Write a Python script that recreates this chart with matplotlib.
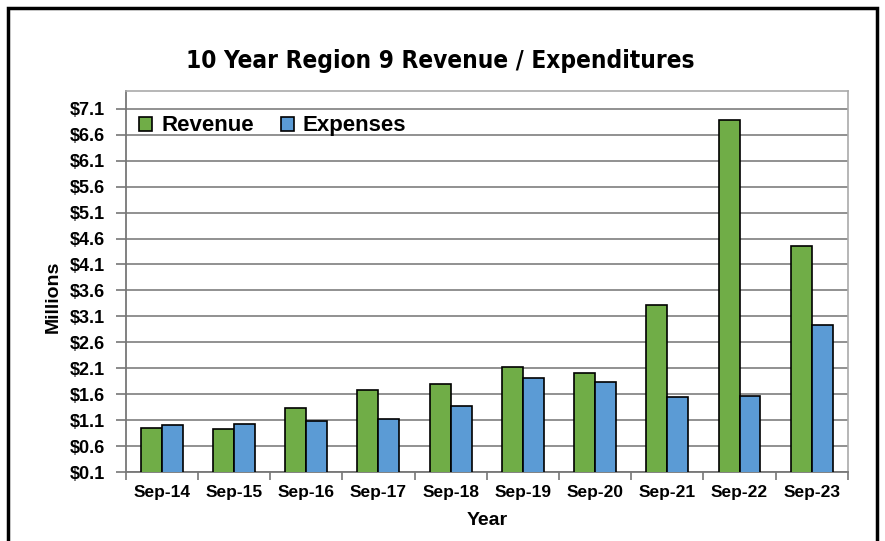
import numpy as np
import matplotlib
matplotlib.use('Agg')
import matplotlib.pyplot as plt
from matplotlib.patches import Rectangle

# data (millions)
years = ['Sep-14', 'Sep-15', 'Sep-16', 'Sep-17', 'Sep-18',
         'Sep-19', 'Sep-20', 'Sep-21', 'Sep-22', 'Sep-23']
revenue = [0.95, 0.93, 1.34, 1.69, 1.80, 2.12, 2.00, 3.32, 6.89, 4.46]
expenses = [1.01, 1.03, 1.09, 1.13, 1.38, 1.92, 1.83, 1.54, 1.56, 2.93]
yticks = [0.1, 0.6, 1.1, 1.6, 2.1, 2.6, 3.1, 3.6, 4.1, 4.6, 5.1, 5.6, 6.1, 6.6, 7.1]

plt.rcParams['font.family'] = ['Liberation Sans', 'DejaVu Sans']

fig = plt.figure(figsize=(8.85, 5.41), dpi=100)
ax = fig.add_axes([0.142, 0.1275, 0.816, 0.705])

x = np.arange(len(years))
w = 0.29
ax.bar(x - w/2, revenue, w, color='#70ad47', edgecolor='black', linewidth=1.2,
       label='Revenue', zorder=3)
ax.bar(x + w/2, expenses, w, color='#5b9bd5', edgecolor='black', linewidth=1.2,
       label='Expenses', zorder=3)

ax.set_xlim(-0.5, len(years) - 0.5)
ax.set_ylim(0.1, 7.45)
ax.set_yticks(yticks)
ax.set_yticklabels(['$%.1f' % v for v in yticks], fontsize=13, fontweight='bold')
ax.set_xticks(x)
ax.set_xticklabels(years, fontsize=12.5, fontweight='bold')
ax.tick_params(axis='x', length=0, pad=9)
ax.set_xticks(np.arange(len(years) + 1) - 0.5, minor=True)
ax.tick_params(axis='x', which='minor', length=6, color='#777777', width=1.2)
ax.tick_params(axis='y', length=7, color='#777777', width=1.2, pad=8)

ax.grid(axis='y', color='#888888', linewidth=1.3, zorder=0)
for s in ['top', 'right']:
    ax.spines[s].set_color('#aaaaaa')
    ax.spines[s].set_linewidth(1.2)
for s in ['left', 'bottom']:
    ax.spines[s].set_color('#777777')
    ax.spines[s].set_linewidth(1.3)

ax.set_ylabel('Millions', fontsize=14, fontweight='bold')
ax.yaxis.set_label_coords(-0.089, 0.46)
ax.set_xlabel('Year', fontsize=14, fontweight='bold', labelpad=9)

ax.legend(loc='upper left', ncol=2, frameon=False,
          prop={'weight': 'bold', 'size': 16}, handlelength=0.6, handleheight=0.6,
          handletextpad=0.4, columnspacing=1.2, borderaxespad=0.2,
          bbox_to_anchor=(0.0, 0.97))

fig.text(0.497, 0.887, '10 Year Region 9 Revenue / Expenditures',
         ha='center', va='center', fontsize=17.5, fontweight='bold',
         fontstretch='condensed', family='DejaVu Sans')

# outer frame
fig.patches.append(Rectangle((0.009, -0.05), 0.982, 1.035, transform=fig.transFigure,
                             fill=False, edgecolor='black', linewidth=2.5))

fig.savefig('out.png', dpi=100)
